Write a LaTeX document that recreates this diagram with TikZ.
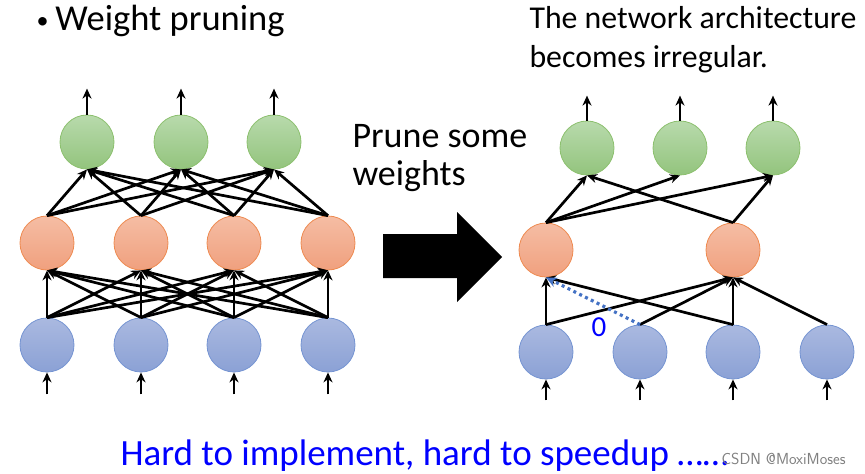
\documentclass[tikz,border=0pt]{standalone}
\usepackage{fontspec}
\setmainfont{Carlito}
\usepackage{tikz}
\usetikzlibrary{arrows.meta,calc}

\definecolor{grnTop}{HTML}{B8DAAC}
\definecolor{grnBot}{HTML}{93C47D}
\definecolor{grnLine}{HTML}{8CC06E}
\definecolor{orgTop}{HTML}{F5BDA4}
\definecolor{orgBot}{HTML}{F0A07E}
\definecolor{orgLine}{HTML}{EE8A50}
\definecolor{bluTop}{HTML}{AAB9E0}
\definecolor{bluBot}{HTML}{8BA1D5}
\definecolor{bluLine}{HTML}{7594D2}
\definecolor{zeroBlue}{HTML}{4472C4}

\tikzset{
	neuron/.style={circle, minimum size=54pt, inner sep=0pt, line width=0.8pt},
	outN/.style={neuron, top color=grnTop, bottom color=grnBot, draw=grnLine},
	hidN/.style={neuron, top color=orgTop, bottom color=orgBot, draw=orgLine},
	inN/.style={neuron, top color=bluTop, bottom color=bluBot, draw=bluLine},
	wire/.style={line width=2.7pt, -{Stealth[length=10pt,width=9pt]}},
}

\begin{document}
\begin{tikzpicture}[x=1pt,y=-1pt]
			\useasboundingbox (0,0) rectangle (865,474);

			% left network
			\foreach \x [count=\i] in {87,181,274}
				\node[outN] (lg\i) at (\x,142) {};
			\foreach \x [count=\i] in {47,141,234,328}
			{
				\node[hidN] (lh\i) at (\x,243) {};
				\node[inN] (li\i) at (\x,345) {};
			}

			\foreach \i in {1,...,3}
			{
				\coordinate (lt\i) at ($(lg\i.north)+(0,-26)$);
				\draw[wire] (lg\i.north) -- (lt\i);
			}
			\foreach \i in {1,...,4}
			{
				\coordinate (lb\i) at ($(li\i.south)+(0,22)$);
				\draw[wire] (lb\i) -- (li\i.south);
			}
			\foreach \i in {1,...,4}
				\foreach \j in {1,...,3}
					\draw[wire] (lh\i.north) -- (lg\j.south);
			\foreach \i in {1,...,4}
				\foreach \j in {1,...,4}
					\draw[wire] (li\i.north) -- (lh\j.south);

			% right network
			\foreach \x [count=\i] in {587,680,773}
				\node[outN] (rg\i) at (\x,148) {};
			\node[hidN] (rh1) at (546,250) {};
			\node[hidN] (rh2) at (733,250) {};
			\foreach \x [count=\i] in {546,640,733,827}
				\node[inN] (ri\i) at (\x,352) {};

			\foreach \i in {1,...,3}
			{
				\coordinate (rt\i) at ($(rg\i.north)+(0,-25)$);
				\draw[wire] (rg\i.north) -- (rt\i);
			}
			\foreach \i in {1,...,4}
			{
				\coordinate (rb\i) at ($(ri\i.south)+(0,21)$);
				\draw[wire] (rb\i) -- (ri\i.south);
			}
			\foreach \a/\b in {rh1/rg1,rh1/rg2,rh1/rg3,rh2/rg1,rh2/rg3}
				\draw[wire] (\a.north) -- (\b.south);
			\foreach \a/\b in {ri1/rh1,ri1/rh2,ri2/rh2,ri3/rh1,ri3/rh2,ri4/rh2}
				\draw[wire] (\a.north) -- (\b.south);
			\draw[zeroBlue, line width=3.2pt, dash pattern=on 3pt off 3.5pt, -{Stealth[length=11pt,width=10pt]}]
				(ri2.north) -- (rh1.south);
			\node[text=blue, font=\fontsize{29}{29}\selectfont] (zero) at ($(ri2.north)+(-41,3)$) {0};

			% big arrow
			\fill (383,234) -- (457,234) -- (457,212) -- (502,257) -- (457,302)
				-- (457,278) -- (383,278) -- cycle;

			% texts
			\node[anchor=base west, font=\fontsize{36.5}{36.5}\selectfont] (title) at (33,30)
				{{\fontsize{24}{24}\selectfont\raisebox{2pt}{\textbullet}}\hspace{7pt}Weight pruning};
			\node[anchor=base west, font=\fontsize{36}{36}\selectfont] (prune) at (349,147) {Prune some};
			\node[anchor=base west, font=\fontsize{36}{36}\selectfont] (wts) at (349,185) {weights};
			\node[anchor=base west, font=\fontsize{31.8}{31.8}\selectfont] (arch) at (526,28) {The network architecture};
			\node[anchor=base west, font=\fontsize{31.8}{31.8}\selectfont] (irr) at (526,67) {becomes irregular.};
			\node[anchor=base west, text=blue, font=\fontsize{37}{37}\selectfont] (hard) at (117,465) {Hard to implement, hard to speedup \dots\dots};
			\node[anchor=base west, text=gray, font=\sffamily\fontsize{16}{16}\selectfont] (mark) at (718,464) {CSDN @MoxiMoses};
		\end{tikzpicture}
\end{document}
